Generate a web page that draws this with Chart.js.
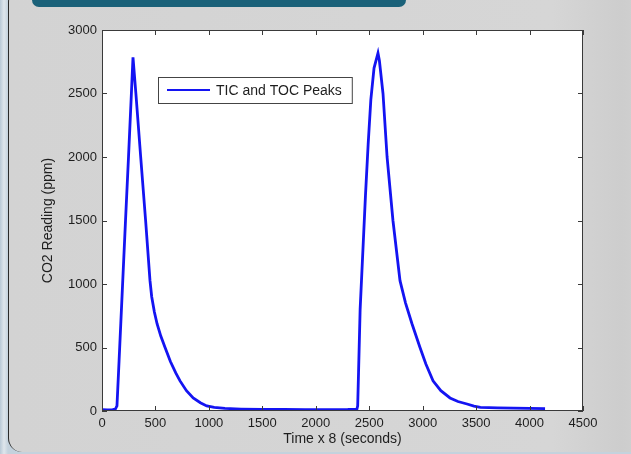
<!DOCTYPE html>
<html>
<head>
<meta charset="utf-8">
<script src="https://cdn.jsdelivr.net/npm/chart.js@4.4.0/dist/chart.umd.min.js"></script>
<style>
  html, body { margin: 0; padding: 0; }
  body {
    width: 631px; height: 454px; overflow: hidden; position: relative;
    background: linear-gradient(90deg, #b9c9d6 0px, #dfe6ec 4px, #c4d2dd 8px);
    font-family: "Liberation Sans", Arial, sans-serif;
  }
  .panel {
    position: absolute; left: 8px; top: -12px; width: 640px; height: 464px;
    background: linear-gradient(90deg, #d3d3d3 0%, #d6d6d6 85%, #cdcdcd 96%, #d2d2d2 100%);
    border-left: 1.5px solid #2b2b2b; border-top: 1.5px solid #2b2b2b;
    border-radius: 14px 0 0 14px;
    box-sizing: border-box;
  }
  .banner {
    position: absolute; left: 32px; top: -8px; width: 374px; height: 15px;
    background: #1a6179; border-radius: 0 0 7px 7px;
  }
  #wrap { position: absolute; left: 0; top: 0; width: 631px; height: 454px; }
</style>
</head>
<body>
<div class="panel"></div>
<div class="banner"></div>
<div id="wrap"><canvas id="chart" width="631" height="454"></canvas></div>
<script>
// readings (time x 8 s, CO2 ppm)
const timeValues = [
  0, 50, 100, 125, 140, 160, 190, 220, 248, 275, 290,
  317, 362, 408, 449, 465, 490,
  515, 550, 590, 640, 690, 730, 790, 853, 920, 980, 1050, 1150,
  1300, 1500, 1700, 1900, 2100, 2300, 2385,
  2392, 2400, 2415, 2440, 2465, 2490, 2515, 2545, 2582,
  2595, 2629, 2667, 2722, 2788, 2840, 2900, 2975,
  3030, 3097, 3170, 3256, 3330, 3415, 3480, 3540, 3700, 3850, 4000, 4145
];
const co2Values = [
  10, 8, 10, 15, 40, 400, 950, 1500, 2000, 2500, 2785,
  2500, 2000, 1500, 1026, 900, 780,
  687, 590, 500, 390, 300, 237, 160, 103, 65, 40, 28, 20,
  15, 12, 12, 10, 10, 12, 15,
  40, 300, 800, 1250, 1700, 2100, 2450, 2700, 2818,
  2760, 2500, 2000, 1500, 1026, 850, 687, 500,
  370, 237, 160, 103, 75, 55, 38, 28, 25, 22, 20, 18
];
const seriesLabel = "TIC and TOC Peaks";
const xTitle = "Time x 8 (seconds)";
const yTitle = "CO2 Reading (ppm)";
const xMin = 0, xMax = 4500, xStep = 500;
const yMin = 0, yMax = 3000, yStep = 500;

const points = timeValues.map((t, i) => ({ x: t, y: co2Values[i] }));

Chart.defaults.font.family = '"Liberation Sans", Arial, sans-serif';
Chart.defaults.font.size = 13;
Chart.defaults.color = "#1e1e1e";

// white plotting box, MATLAB style frame with inward ticks, and boxed legend
const matlabFrame = {
  id: "matlabFrame",
  beforeDatasetsDraw(chart) {
    const { ctx, chartArea: a } = chart;
    ctx.save();
    ctx.fillStyle = "#ffffff";
    ctx.fillRect(a.left, a.top, a.right - a.left, a.bottom - a.top);
    ctx.restore();
  },
  afterDatasetsDraw(chart) {
    const { ctx, chartArea: a, scales } = chart;
    ctx.save();
    ctx.strokeStyle = "#3a3a3a";
    ctx.lineWidth = 1;
    ctx.strokeRect(a.left + 0.5, a.top + 0.5, a.right - a.left - 1, a.bottom - a.top - 1);
    const len = 5;
    ctx.beginPath();
    scales.x.ticks.forEach(t => {
      const px = Math.round(scales.x.getPixelForValue(t.value)) + 0.5;
      ctx.moveTo(px, a.bottom); ctx.lineTo(px, a.bottom - len);
      ctx.moveTo(px, a.top); ctx.lineTo(px, a.top + len);
    });
    scales.y.ticks.forEach(t => {
      const py = Math.round(scales.y.getPixelForValue(t.value)) + 0.5;
      ctx.moveTo(a.left, py); ctx.lineTo(a.left + len, py);
      ctx.moveTo(a.right, py); ctx.lineTo(a.right - len, py);
    });
    ctx.stroke();

    // legend box
    const ds = chart.data.datasets[0];
    ctx.font = '14px "Liberation Sans", Arial, sans-serif';
    const bx = a.left + 56, by = a.top + 47, bh = 26;
    const textX = bx + 58;
    const bw = textX + ctx.measureText(ds.label).width + 10 - bx;
    ctx.fillStyle = "#ffffff";
    ctx.fillRect(bx, by, bw, bh);
    ctx.strokeStyle = "#444444";
    ctx.strokeRect(bx + 0.5, by + 0.5, bw, bh);
    ctx.strokeStyle = ds.borderColor;
    ctx.lineWidth = 2;
    ctx.beginPath();
    ctx.moveTo(bx + 9, by + bh / 2); ctx.lineTo(bx + 52, by + bh / 2);
    ctx.stroke();
    ctx.fillStyle = "#1e1e1e";
    ctx.textBaseline = "middle";
    ctx.fillText(ds.label, textX, by + bh / 2 + 1);
    ctx.restore();
  }
};

new Chart(document.getElementById("chart"), {
  type: "line",
  data: {
    datasets: [{
      label: seriesLabel,
      data: points,
      borderColor: "#1414f2",
      borderWidth: 2.8,
      pointRadius: 0,
      tension: 0,
      fill: false
    }]
  },
  options: {
    responsive: false,
    animation: false,
    layout: { padding: { top: 30, right: 48, left: 0, bottom: 0 } },
    plugins: { legend: { display: false }, tooltip: { enabled: false } },
    scales: {
      x: {
        type: "linear",
        min: xMin, max: xMax,
        ticks: { stepSize: xStep, padding: 5, maxRotation: 0, color: "#1e1e1e",
                 callback: v => String(v) },
        grid: { display: false, drawTicks: false },
        border: { display: false },
        title: { display: true, text: xTitle, font: { size: 14 },
                 padding: { top: 0, bottom: 6 }, color: "#1e1e1e" },
        afterFit(scale) { scale.height = 43; }
      },
      y: {
        type: "linear",
        min: yMin, max: yMax,
        ticks: { stepSize: yStep, padding: 5, color: "#1e1e1e",
                 callback: v => String(v) },
        grid: { display: false, drawTicks: false },
        border: { display: false },
        title: { display: true, text: yTitle, font: { size: 14 },
                 padding: { top: 40, bottom: 0 }, color: "#1e1e1e" },
        afterFit(scale) { scale.width = 102; }
      }
    }
  },
  plugins: [matlabFrame]
});
</script>
</body>
</html>
